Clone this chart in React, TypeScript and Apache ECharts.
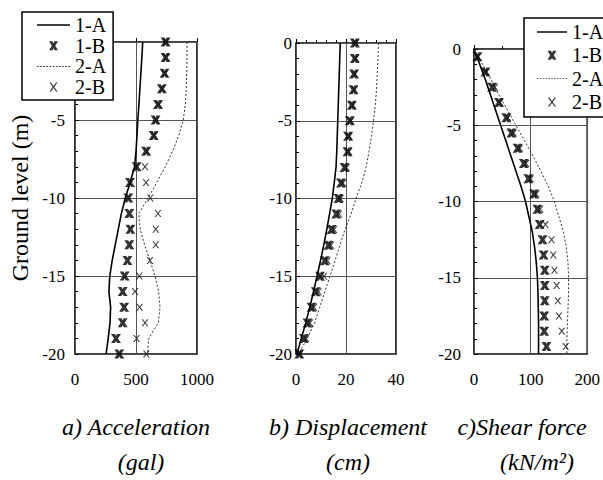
import React, { useEffect, useRef } from "react";
import * as echarts from "echarts";

// Depth levels (m)
const depths = [0, -1, -2, -3, -4, -5, -6, -7, -8, -9, -10, -11, -12, -13, -14, -15, -16, -17, -18, -19, -20];
const shearDepths = [-0.5, -1.5, -2.5, -3.5, -4.5, -5.5, -6.5, -7.5, -8.5, -9.5, -10.5, -11.5, -12.5, -13.5, -14.5, -15.5, -16.5, -17.5, -18.5, -19.5];

// a) Acceleration (gal)
const acc1A = [555, 548, 540, 532, 524, 515, 508, 500, 488, 452, 412, 380, 355, 330, 305, 285, 278, 292, 287, 272, 255];
const acc1B = [742, 742, 734, 712, 680, 660, 645, 582, 505, 451, 437, 445, 454, 445, 430, 407, 391, 403, 391, 336, 363];
const acc2A = [918, 918, 916, 912, 904, 888, 850, 800, 740, 670, 600, 522, 535, 570, 615, 655, 685, 697, 683, 605, 593];
const acc2B = [748, 748, 736, 716, 688, 668, 650, 592, 574, 582, 617, 680, 662, 662, 615, 527, 492, 530, 574, 505, 585];

// b) Displacement (cm)
const dis1A = [17.7, 17.5, 17.3, 17.1, 16.9, 16.7, 16.5, 16.3, 16.0, 15.3, 14.5, 13.4, 12.3, 11.1, 9.8, 8.4, 7.0, 5.5, 3.9, 2.1, 0.4];
const dis1B = [23.5, 23.5, 23.2, 23.0, 22.3, 21.5, 20.8, 20.6, 19.4, 18.0, 17.0, 16.1, 14.2, 13.0, 11.5, 9.6, 7.9, 6.2, 4.6, 3.1, 1.3];
const dis2A = [33.0, 32.8, 32.5, 32.2, 31.7, 31.0, 30.2, 29.2, 28.0, 26.3, 24.0, 22.0, 19.6, 17.6, 15.6, 13.6, 11.5, 9.5, 7.4, 4.5, 1.0];
const dis2B = [24.0, 24.0, 23.6, 23.4, 22.8, 22.0, 21.4, 21.2, 20.2, 18.8, 17.8, 17.2, 15.2, 14.0, 12.6, 11.2, 9.0, 7.2, 5.6, 4.0, 1.6];

// c) Shear force (kN/m2)
const sh1A = [0, 10, 20, 29, 38, 47, 56, 65, 74, 83, 91, 97, 103, 107, 110, 112, 113, 113.5, 114, 114, 114];
const sh1B = [6, 20, 32, 44, 57, 66, 77, 88, 96, 106, 112, 116, 121, 123, 125, 125, 125, 124, 124, 128];
const sh2A = [0, 15, 30, 44, 59, 74, 89, 104, 118, 131, 142, 150, 158, 163, 166, 167, 167, 166, 165, 164, 164];
const sh2B = [7, 22, 37, 46, 60, 70, 81, 92, 100, 110, 117, 126, 137, 140, 142, 146, 148, 150, 155, 162];

const xTicks = [
  { min: 0, max: 1000, interval: 500, minor: 0 },
  { min: 0, max: 40, interval: 20, minor: 5 },
  { min: 0, max: 200, interval: 100, minor: 2 },
];
const captions1 = ["a) Acceleration", "b) Displacement", "c)Shear force"];
const captions2 = ["(gal)", "(cm)", "(kN/m²)"];

const FONT = "'Liberation Serif', 'Times New Roman', serif";
const BOLD_X = "path://M0,0H4.6L6,2.6L7.4,0H12L8.3,6L12,12H7.4L6,9.4L4.6,12H0L3.7,6Z";
const THIN_X = "path://M0,0H2L5,4.3L8,0H10L6,5.5L10,11H8L5,6.7L2,11H0L4,5.5Z";

// legend icon shapes (styling only)
const SOLID_ICON = "path://M0,0H33V1.6H0Z";
let dotted = "";
for (let k = 0; k < 11; k++) dotted += `M${k * 3},0H${k * 3 + 1.6}V1H${k * 3}Z`;
const DOTTED_ICON = "path://" + dotted;

const pair = (xs: number[], ys: number[]) => xs.map((v, i) => [v, ys[i]]);

export default function App() {
  const ref = useRef<HTMLDivElement>(null);
  useEffect(() => {
    if (!ref.current) return;
    const chart = echarts.init(ref.current, null, { renderer: "svg" });

    const grids = [
      { left: 75, top: 42, width: 122, height: 312 },
      { left: 296, top: 43, width: 100, height: 311 },
      { left: 474, top: 49, width: 115, height: 305 },
    ].map((g) => ({ ...g, show: true, borderColor: "#000", borderWidth: 1.6, backgroundColor: "transparent" }));

    const yMargins = [10, 4, 13];
    const xAxes = xTicks.map((t, i) => ({
      type: "value",
      gridIndex: i,
      min: t.min,
      max: t.max,
      interval: t.interval,
      axisLine: { show: false },
      axisTick: { show: true, inside: true, length: 4, lineStyle: { color: "#000" } },
      minorTick: { show: t.minor > 0, splitNumber: t.minor || 5, length: 3, lineStyle: { color: "#000" } },
      splitLine: { show: true, lineStyle: { color: "#555", width: 1 } },
      axisLabel: { fontFamily: FONT, fontSize: 17, color: "#000", margin: 17, formatter: (v: number) => String(v) },
    }));
    const yAxes = [0, 1, 2].map((i) => ({
      type: "value",
      gridIndex: i,
      min: -20,
      max: 0,
      interval: 5,
      name: i === 0 ? "Ground level (m)" : "",
      nameLocation: "middle",
      nameGap: 43,
      nameTextStyle: { fontFamily: FONT, fontSize: 24, color: "#000" },
      axisLine: { show: false },
      axisTick: { show: true, inside: true, length: 4, lineStyle: { color: "#000" } },
      minorTick: { show: true, splitNumber: 5, length: 3, lineStyle: { color: "#000" } },
      splitLine: { show: true, lineStyle: { color: "#555", width: 1 } },
      axisLabel: { fontFamily: FONT, fontSize: 17, color: "#000", margin: yMargins[i] },
    }));

    const panels = [
      { a1: acc1A, b1: acc1B, a2: acc2A, b2: acc2B, bd: depths },
      { a1: dis1A, b1: dis1B, a2: dis2A, b2: dis2B, bd: depths },
      { a1: sh1A, b1: sh1B, a2: sh2A, b2: sh2B, bd: shearDepths },
    ];
    const series: any[] = [];
    panels.forEach((p, i) => {
      series.push({
        name: "1-A", type: "line", xAxisIndex: i, yAxisIndex: i, data: pair(p.a1, depths),
        symbol: "none", showSymbol: false, lineStyle: { color: "#000", width: 1.6 }, itemStyle: { color: "#000" }, z: 2,
      });
      series.push({
        name: "2-A", type: "line", xAxisIndex: i, yAxisIndex: i, data: pair(p.a2, depths),
        symbol: "none", showSymbol: false, lineStyle: { color: "#333", width: 1, type: [2, 2] }, itemStyle: { color: "#333" }, z: 2,
      });
      series.push({
        name: "1-B", type: "scatter", xAxisIndex: i, yAxisIndex: i, data: pair(p.b1, p.bd),
        symbol: BOLD_X, symbolSize: [10, 9], itemStyle: { color: "#000" }, z: 3,
      });
      series.push({
        name: "2-B", type: "scatter", xAxisIndex: i, yAxisIndex: i, data: pair(p.b2, p.bd),
        symbol: THIN_X, symbolSize: [7, 7], itemStyle: { color: "#111" }, z: 3,
      });
    });

    const legendData = [
      { name: "1-A", icon: SOLID_ICON, itemStyle: { color: "#000" } },
      { name: "1-B" },
      { name: "2-A", icon: DOTTED_ICON, itemStyle: { color: "#333" } },
      { name: "2-B" },
    ];
    const legendBase = {
      orient: "vertical",
      data: legendData,
      backgroundColor: "#fff",
      borderColor: "#000",
      borderWidth: 1.5,
      borderRadius: 0,
      itemHeight: 9,
      selectedMode: false,
      inactiveColor: "#000",
      textStyle: { fontFamily: FONT, fontSize: 20, color: "#000", lineHeight: 20 },
      z: 10,
    };

    chart.setOption({
      animation: false,
      backgroundColor: "#fff",
      grid: grids,
      xAxis: xAxes,
      yAxis: yAxes,
      legend: [
        { ...legendBase, left: 22, top: 12, itemWidth: 33, itemGap: 0.7, padding: [3, 7, 3, 15] },
        { ...legendBase, left: 524, top: 18, itemWidth: 30, itemGap: 3.3, padding: [4, 40, 5, 13] },
      ],
      graphic: [
        ...captions1.map((t, i) => ({
          type: "text", x: [136, 348, 522][i], y: 427,
          style: { text: t, fontFamily: FONT, fontStyle: "italic", fontSize: 24, fill: "#000", textAlign: "center", textVerticalAlign: "middle" },
        })),
        ...captions2.map((t, i) => ({
          type: "text", x: [141, 348, 537][i], y: 462,
          style: { text: t, fontFamily: FONT, fontStyle: "italic", fontSize: 24, fill: "#000", textAlign: "center", textVerticalAlign: "middle" },
        })),
      ],
      series,
    });
    return () => chart.dispose();
  }, []);
  return <div ref={ref} style={{ position: "fixed", left: 0, top: 0, width: 603, height: 480 }} />;
}
